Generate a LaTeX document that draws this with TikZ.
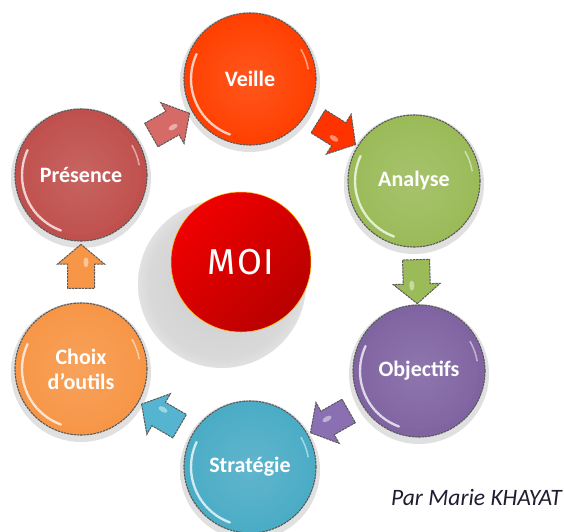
\documentclass[tikz,border=0pt]{standalone}
\usepackage{fontspec}
\setmainfont{Carlito}
\newfontfamily\moifont[LetterSpace=4]{Fira Sans}
\usetikzlibrary{shapes.arrows,calc}
\definecolor{cveille}{HTML}{FF4000}
\definecolor{canalyse}{HTML}{9BBB59}
\definecolor{cobjectifs}{HTML}{8064A2}
\definecolor{cstrategie}{HTML}{4BACC6}
\definecolor{cchoix}{HTML}{F79646}
\definecolor{cpresence}{HTML}{C0504D}
\definecolor{apresence}{HTML}{D66A66}
\definecolor{aveille}{HTML}{FF3300}
\definecolor{aobjectifs}{HTML}{8A6FB2}
\definecolor{astrategie}{HTML}{55B4CF}
\definecolor{moilight}{HTML}{F00000}
\definecolor{moidark}{HTML}{B80000}
\definecolor{authorcol}{HTML}{1E1E32}
\pgfdeclareradialshading{softshadow}{\pgfpoint{0bp}{0bp}}{color(0bp)=(black!20); color(22bp)=(black!15); color(35bp)=(white); color(50bp)=(white)}
\pgfdeclareradialshading{rimshadow}{\pgfpoint{0bp}{0bp}}{color(0bp)=(black!12); color(30bp)=(black!12); color(35bp)=(white); color(50bp)=(white)}
\tikzset{
  bubble/.style={circle, minimum size=132pt, inner sep=0pt, fill=#1,
    draw=black!65, line width=1.1pt, dash pattern=on 2.5pt off 0.8pt,
    text=white, font=\bfseries\fontsize{22}{25}\selectfont, align=center,
    path picture={
      \shade[inner color=#1!80!white, outer color=#1, opacity=0.6]
        (path picture bounding box.center) circle (60pt);
      \draw[white, line width=2.4pt, opacity=0.75, line cap=round]
        (path picture bounding box.center) ++(-110:59pt)
        arc[start angle=-110, end angle=-205, radius=59pt];
      \draw[white, line width=1.6pt, opacity=0.5, line cap=round]
        (path picture bounding box.center) ++(-330:59pt)
        arc[start angle=-330, end angle=-350, radius=59pt];
    }},
  blockarrow/.style={single arrow, minimum height=44pt, inner xsep=0pt, inner ysep=13pt,
    single arrow head extend=10pt, single arrow tip angle=100,
    fill=#1, draw=black!65, line width=1pt, dash pattern=on 2.5pt off 0.8pt,
    sloped, allow upside down, pos=0.5,
    path picture={
      \fill[white, opacity=0.45] (path picture bounding box.center) ++(4pt,-5pt) ellipse (5pt and 2.5pt);
    }},
  author/.style={font=\itshape\fontsize{23.5}{25}\selectfont, text=authorcol, anchor=east, inner sep=0pt}
}
\begin{document}
\begin{tikzpicture}[x=1pt,y=-1pt]
\useasboundingbox (0,0) rectangle (564,531);
% soft shadows
\shade[shading=softshadow] (222,284) circle (84);
\foreach \p in {(250,82),(414,184),(419,374),(250,470),(81,372),(81,178)}
  \shade[shading=rimshadow] \p circle (70);
% circles
\node[bubble=cveille] (veille) at (250,79) {Veille};
\node[bubble=canalyse] (analyse) at (414,181) {Analyse};
\node[bubble=cobjectifs] (objectifs) at (419,371) {Objectifs};
\node[bubble=cstrategie] (strategie) at (250,467) {Stratégie};
\node[bubble=cchoix] (choix) at (81,369) {Choix\\d’outils};
\node[bubble=cpresence] (presence) at (81,175) {Présence};
% centre
\node[circle, minimum size=140pt, inner sep=0pt, draw=orange!50!yellow, line width=0.5pt,
  shading=axis, left color=moilight, right color=moidark, shading angle=45,
  text=white, font=\moifont\fontsize{36}{40}\selectfont] (moi) at (241,262) {MOI};
% arrows
\path (presence) -- node[blockarrow=apresence] (a1) {} (veille);
\path (veille) -- node[blockarrow=aveille] (a2) {} (analyse);
\path (analyse) -- node[blockarrow=canalyse] (a3) {} (objectifs);
\path (objectifs) -- node[blockarrow=aobjectifs] (a4) {} (strategie);
\path (strategie) -- node[blockarrow=astrategie] (a5) {} (choix);
\path (choix) -- node[blockarrow=cchoix] (a6) {} (presence);
% author
\node[author] (auth) at (562,497) {Par Marie KHAYAT};
\end{tikzpicture}
\end{document}
